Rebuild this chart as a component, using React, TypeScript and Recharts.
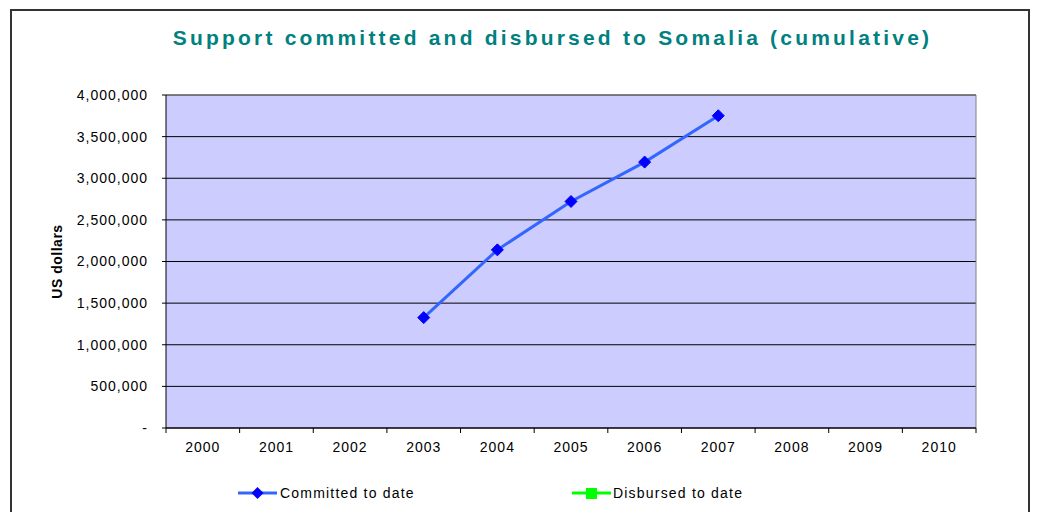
import React from "react";
import {
  LineChart,
  Line,
  XAxis,
  YAxis,
  CartesianGrid,
  ReferenceLine,
} from "recharts";

const years = ["2000", "2001", "2002", "2003", "2004", "2005", "2006", "2007", "2008", "2009", "2010"];
const committed: (number | null)[] = [null, null, null, 1326000, 2140000, 2721000, 3194000, 3751000, null, null, null];
const disbursed: (number | null)[] = [null, null, null, null, null, null, null, null, null, null, null];
const yTicks = [0, 500000, 1000000, 1500000, 2000000, 2500000, 3000000, 3500000, 4000000];

const data = years.map((y, i) => ({
  idx: i,
  year: y,
  committed: committed[i],
  disbursed: disbursed[i],
}));

const xTicks: number[] = [];
for (let i = -0.5; i <= years.length - 0.5 + 1e-9; i += 0.5) xTicks.push(Math.round(i * 10) / 10);

const FONT = "Arial, 'Liberation Sans', sans-serif";

const XTick = (props: any) => {
  const { x, y, payload } = props;
  const v = payload.value as number;
  if (Math.abs(v - Math.round(v)) > 0.01) {
    return <line x1={x} x2={x} y1={y} y2={y + 5} stroke="#000" strokeWidth={1} />;
  }
  const label = years[Math.round(v)];
  if (label === undefined) return null;
  return (
    <text x={x} y={y + 24} textAnchor="middle" fontFamily={FONT} fontSize={14} letterSpacing={1} fill="#000">
      {label}
    </text>
  );
};

const Diamond = (props: any) => {
  const { cx, cy, value } = props;
  if (value === null || value === undefined || cx == null || cy == null) return null;
  const r = 6;
  return (
    <polygon
      points={`${cx},${cy - r} ${cx + r},${cy} ${cx},${cy + r} ${cx - r},${cy}`}
      fill="#0000FF"
      stroke="#0000FF"
    />
  );
};

const yFmt = (v: number) => (v === 0 ? "-" : v.toLocaleString("en-US"));

export default function App() {
  return (
    <div style={{ position: "absolute", left: 0, top: 0, width: 1040, height: 512, overflow: "hidden", background: "#fff" }}>
      <div
        style={{
          position: "absolute",
          left: 10,
          top: 9,
          width: 1020,
          height: 520,
          border: "2px solid #333",
          boxSizing: "border-box",
        }}
      />
      <div
        style={{
          position: "absolute",
          left: 0,
          top: 26,
          width: 1105,
          textAlign: "center",
          fontFamily: FONT,
          fontWeight: "bold",
          fontSize: 21,
          letterSpacing: 3.2,
          color: "#008080",
        }}
      >
        Support committed and disbursed to Somalia (cumulative)
      </div>
      <div style={{ position: "absolute", left: 0, top: 0 }}>
        <LineChart width={1040} height={512} data={data} margin={{ top: 95, right: 64, bottom: 54, left: 0 }}>
          <CartesianGrid vertical={false} horizontal={true} stroke="#000" fill="#CCCCFF" fillOpacity={1} />
          <XAxis
            dataKey="idx"
            type="number"
            domain={[-0.5, years.length - 0.5]}
            ticks={xTicks}
            interval={0}
            tickLine={false}
            tickSize={0}
            tickMargin={0}
            tick={<XTick />}
            axisLine={{ stroke: "#000" }}
            height={30}
            allowDecimals
          />
          <YAxis
            type="number"
            domain={[0, 4000000]}
            ticks={yTicks}
            interval={0}
            width={166}
            tickSize={4}
            tickMargin={14}
            tickLine={{ stroke: "#000" }}
            axisLine={{ stroke: "#000" }}
            tickFormatter={yFmt}
            tick={{ fontFamily: FONT, fontSize: 14, fill: "#000", letterSpacing: 1 }}
            label={{
              value: "US dollars",
              angle: -90,
              position: "insideLeft",
              offset: 57,
              style: { fontFamily: FONT, fontSize: 14, fontWeight: "bold", fill: "#000", textAnchor: "middle", letterSpacing: 0.5 },
            }}
          />
          <ReferenceLine y={4000000} stroke="#808080" strokeWidth={1} ifOverflow="extendDomain" />
          <ReferenceLine x={years.length - 0.5} stroke="#808080" strokeWidth={1} />
          <Line
            type="linear"
            dataKey="committed"
            stroke="#3366FF"
            strokeWidth={3}
            dot={<Diamond />}
            activeDot={false}
            isAnimationActive={false}
            connectNulls={false}
          />
          <Line
            type="linear"
            dataKey="disbursed"
            stroke="#00FF00"
            strokeWidth={3}
            dot={false}
            activeDot={false}
            isAnimationActive={false}
          />
        </LineChart>
      </div>
      <svg style={{ position: "absolute", left: 0, top: 0 }} width={1040} height={512}>
        <line x1={238} x2={277} y1={493} y2={493} stroke="#3366FF" strokeWidth={3} />
        <polygon points="257.5,487 263.5,493 257.5,499 251.5,493" fill="#0000FF" />
        <text x={280} y={498} fontFamily={FONT} fontSize={14} letterSpacing={1.2} fill="#000">
          Committed to date
        </text>
        <line x1={572} x2={611} y1={493} y2={493} stroke="#00FF00" strokeWidth={3} />
        <rect x={586} y={488} width={11} height={11} fill="#00FF00" />
        <text x={613} y={498} fontFamily={FONT} fontSize={14} letterSpacing={1.2} fill="#000">
          Disbursed to date
        </text>
      </svg>
    </div>
  );
}
